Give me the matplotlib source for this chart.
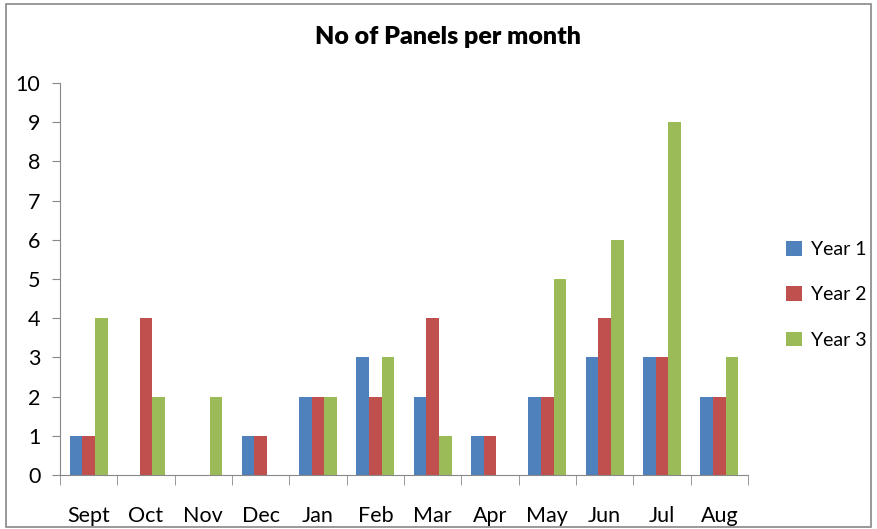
import numpy as np
import matplotlib.pyplot as plt
from matplotlib.patches import Rectangle

months = ['Sept', 'Oct', 'Nov', 'Dec', 'Jan', 'Feb', 'Mar', 'Apr', 'May', 'Jun', 'Jul', 'Aug']
year1 = [1, 0, 0, 1, 2, 3, 2, 1, 2, 3, 3, 2]
year2 = [1, 4, 0, 1, 2, 2, 4, 1, 2, 4, 3, 2]
year3 = [4, 2, 2, 0, 2, 3, 1, 0, 5, 6, 9, 3]
series = [('Year 1', year1, '#4F81BD'), ('Year 2', year2, '#C0504D'), ('Year 3', year3, '#9BBB59')]

plt.rcParams['font.family'] = ['Lato', 'DejaVu Sans']

fig = plt.figure(figsize=(8.78, 5.29), dpi=100)
ax = fig.add_axes([0.0683, 0.102, 0.7837, 0.741])

x = np.arange(len(months))
w = 1 / 4.5
for i, (name, vals, col) in enumerate(series):
    ax.bar(x + (i - 1) * w, vals, w, color=col, label=name, zorder=2)

ax.set_xlim(-0.5, len(months) - 0.5)
ax.set_ylim(0, 10)
ax.set_yticks(range(11))
ax.set_xticks(x)
ax.set_xticklabels(months)
ax.set_xticks(np.arange(-0.5, len(months)), minor=True)
ax.tick_params(axis='x', which='major', length=0, pad=22, labelsize=15.5)
ax.tick_params(axis='x', which='minor', length=7, color='#888888', direction='out')
ax.tick_params(axis='y', length=6, color='#888888', labelsize=15.5, pad=8)
for s in ['top', 'right']:
    ax.spines[s].set_visible(False)
for s in ['left', 'bottom']:
    ax.spines[s].set_color('#888888')

fig.suptitle('No of Panels per month', x=0.51, y=0.95, fontsize=18, fontweight='heavy')
ax.legend(loc='center left', bbox_to_anchor=(1.03, 0.46), frameon=False, fontsize=14,
          handlelength=0.8, handleheight=0.8, labelspacing=1.45, handletextpad=0.5)

fig.patches.append(Rectangle((0.007, 0.004), 0.985, 0.988, transform=fig.transFigure,
                             fill=False, edgecolor='#888888', linewidth=1.2))

fig.savefig('out.png', dpi=100)
